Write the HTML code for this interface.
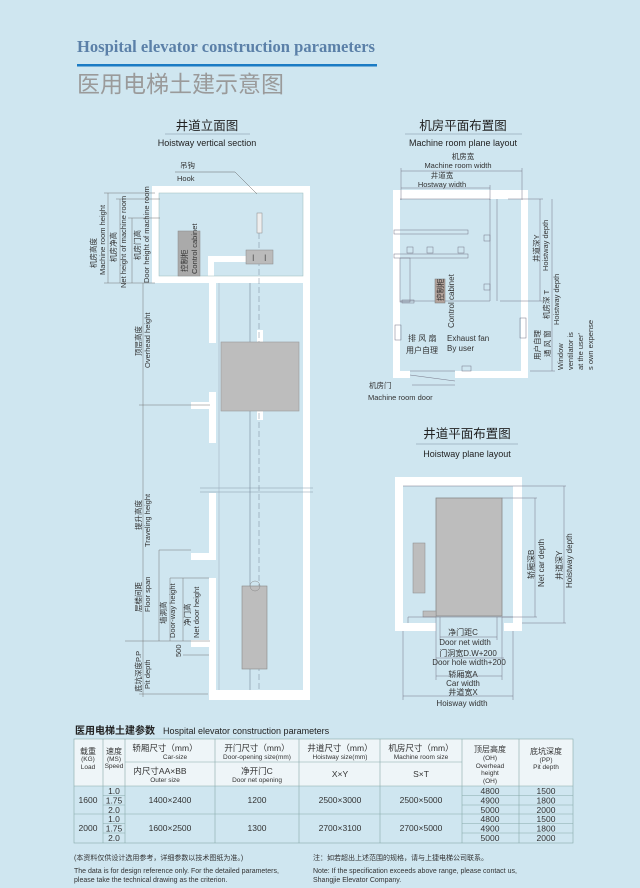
<!DOCTYPE html>
<html><head><meta charset="utf-8"><style>
html,body{margin:0;padding:0;background:#cfe6f0;}
svg{display:block}
text{font-family:"Liberation Sans","Noto Sans CJK SC",sans-serif;fill:#333}
</style></head><body>
<svg width="640" height="888" viewBox="0 0 640 888" xmlns="http://www.w3.org/2000/svg">
<rect width="640" height="888" fill="#cfe6f0"/>
<!-- Header -->
<text x="77" y="52" font-weight="bold" font-size="17" textLength="298" lengthAdjust="spacingAndGlyphs" style="fill:#5b80a8;font-family:'Liberation Serif',serif">Hospital elevator construction parameters</text>
<rect x="77" y="64" width="300" height="2.5" fill="#1b7bc4"/>
<text x="77" y="92" font-size="23" style="fill:#9a9a9a">医用电梯土建示意图</text>

<!-- Titles -->
<text x="207" y="130" font-size="12.5" text-anchor="middle" style="fill:#222">井道立面图</text>
<line x1="165" y1="134" x2="250" y2="134" stroke="#9ab" stroke-width="0.8"/>
<text x="207" y="146" font-size="9" text-anchor="middle" style="fill:#222">Hoistway vertical section</text>
<text x="463" y="130" font-size="12.5" text-anchor="middle" style="fill:#222">机房平面布置图</text>
<line x1="405" y1="134" x2="522" y2="134" stroke="#9ab" stroke-width="0.8"/>
<text x="463" y="146" font-size="9" text-anchor="middle" style="fill:#222">Machine room plane layout</text>
<text x="467" y="438" font-size="12.5" text-anchor="middle" style="fill:#222">井道平面布置图</text>
<line x1="416" y1="444" x2="518" y2="444" stroke="#9ab" stroke-width="0.8"/>
<text x="467" y="457" font-size="9" text-anchor="middle" style="fill:#222">Hoistway plane layout</text>

<!-- LEFT: vertical section -->
<g fill="#fff">
<rect x="152" y="186" width="158" height="7"/>
<rect x="152" y="186" width="7" height="97"/>
<rect x="303" y="186" width="7" height="514"/>
<rect x="152" y="276" width="158" height="7"/>
<rect x="209" y="283" width="7" height="60"/>
<rect x="209" y="392" width="7" height="10"/>
<rect x="191" y="402" width="25" height="7"/>
<rect x="209" y="409" width="7" height="34"/>
<rect x="209" y="493" width="7" height="60"/>
<rect x="191" y="553" width="25" height="7"/>
<rect x="209" y="578" width="7" height="62"/>
<rect x="191" y="640" width="25" height="7"/>
<rect x="209" y="647" width="7" height="53"/>
<rect x="209" y="690" width="101" height="10"/>
<rect x="208" y="256" width="40" height="6"/>
<rect x="208" y="256" width="6" height="20"/>
<rect x="257" y="330" width="6" height="90"/>
</g>
<rect x="159" y="193" width="144" height="83" fill="none" stroke="#9bb" stroke-width="0.5"/>
<line x1="200" y1="488" x2="313" y2="488" stroke="#89a" stroke-width="0.6"/>
<line x1="200" y1="492" x2="313" y2="492" stroke="#89a" stroke-width="0.6"/>
<line x1="250" y1="283" x2="250" y2="690" stroke="#789" stroke-width="0.6"/>
<line x1="259" y1="215" x2="259" y2="690" stroke="#789" stroke-width="0.5" stroke-dasharray="6,3"/>
<line x1="219" y1="283" x2="219" y2="690" stroke="#9ab" stroke-width="0.5"/>
<rect x="257" y="213" width="5" height="20" fill="#eee" stroke="#888" stroke-width="0.5"/>
<rect x="246" y="250" width="27" height="14" fill="#bbb" stroke="#888" stroke-width="0.5"/>
<text x="252" y="261" font-size="9" style="fill:#555">I</text><text x="264" y="261" font-size="9" style="fill:#555">I</text>
<rect x="178" y="231" width="22" height="45" fill="#aaa" stroke="#888" stroke-width="0.5"/>
<text transform="translate(187,272) rotate(-90)" font-size="7.5" style="fill:#333">控制柜</text>
<text transform="translate(197,274) rotate(-90)" font-size="7.5" style="fill:#333">Control cabinet</text>
<rect x="221" y="342" width="78" height="69" fill="#bdbdbd" stroke="#999" stroke-width="0.6"/>
<rect x="242" y="586" width="25" height="83" fill="#bdbdbd" stroke="#888" stroke-width="0.6"/>
<circle cx="255" cy="586" r="5" fill="none" stroke="#888" stroke-width="0.5"/>
<!-- hook -->
<text x="180" y="168" font-size="7.5">吊钩</text>
<text x="177" y="181" font-size="7.5">Hook</text>
<polyline points="175,172 235,172 257,194" fill="none" stroke="#666" stroke-width="0.5"/>
<!-- machine room dims -->
<g stroke="#777" stroke-width="0.5" fill="none">
<line x1="108" y1="193" x2="108" y2="283"/><line x1="104" y1="193" x2="155" y2="193"/><line x1="104" y1="283" x2="155" y2="283"/>
<line x1="120" y1="199" x2="120" y2="283"/><line x1="116" y1="199" x2="160" y2="199"/>
<line x1="132" y1="218" x2="132" y2="283"/><line x1="128" y1="218" x2="160" y2="218"/>
<line x1="143" y1="283" x2="143" y2="697"/>
<line x1="139" y1="405" x2="210" y2="405"/>
<line x1="125" y1="641" x2="210" y2="641"/>
<line x1="139" y1="694" x2="208" y2="694"/>
<line x1="159" y1="550" x2="191" y2="550"/><line x1="159" y1="550" x2="159" y2="641"/>
<line x1="170" y1="578" x2="209" y2="578"/><line x1="170" y1="578" x2="170" y2="641"/>
<line x1="183" y1="578" x2="183" y2="641"/>
<line x1="183" y1="655" x2="209" y2="655"/>
</g>
<text transform="translate(96,268) rotate(-90)" font-size="7.5">机房高度</text>
<text transform="translate(105,275) rotate(-90)" font-size="7.5">Machine room height</text>
<text transform="translate(116,262) rotate(-90)" font-size="7.5">机房净高</text>
<text transform="translate(126,288) rotate(-90)" font-size="7.5">Net height of machine room</text>
<text transform="translate(140,260) rotate(-90)" font-size="7.5">机房门高</text>
<text transform="translate(149,283) rotate(-90)" font-size="7.5">Door height of machine room</text>
<text transform="translate(141,356) rotate(-90)" font-size="7.5">顶层高度</text>
<text transform="translate(150,368) rotate(-90)" font-size="7.5">Overhead height</text>
<text transform="translate(141,530) rotate(-90)" font-size="7.5">提升高度</text>
<text transform="translate(150,547) rotate(-90)" font-size="7.5">Traveling height</text>
<text transform="translate(141,612) rotate(-90)" font-size="7.5">层楼间距</text>
<text transform="translate(150,612) rotate(-90)" font-size="7.5">Floor span</text>
<text transform="translate(166,624) rotate(-90)" font-size="7.5">墙洞高</text>
<text transform="translate(175,638) rotate(-90)" font-size="7.5">Door-way height</text>
<text transform="translate(190,626) rotate(-90)" font-size="7.5">净门高</text>
<text transform="translate(199,638) rotate(-90)" font-size="7.5">Net door height</text>
<text transform="translate(181,657) rotate(-90)" font-size="7.5">500</text>
<text transform="translate(141,692) rotate(-90)" font-size="7.5">底坑深度P.P</text>
<text transform="translate(150,689) rotate(-90)" font-size="7.5">Pit depth</text>

<!-- RIGHT TOP: machine room plan -->
<g fill="#fff">
<rect x="393" y="190" width="135" height="9"/>
<rect x="393" y="190" width="7" height="188"/>
<rect x="521" y="190" width="7" height="188"/>
<rect x="393" y="371" width="17" height="7"/>
<rect x="455" y="371" width="73" height="7"/>
</g>
<g stroke="#778" stroke-width="0.5" fill="none">
<rect x="394" y="230" width="74" height="4"/>
<rect x="394" y="254" width="74" height="4"/>
<rect x="400" y="258" width="10" height="44"/>
<rect x="402" y="300" width="12" height="3"/>
<line x1="400" y1="301" x2="490" y2="301"/>
<line x1="490" y1="199" x2="490" y2="301"/>
<line x1="497" y1="199" x2="497" y2="301"/>
<line x1="400" y1="199" x2="490" y2="199"/>
<rect x="407" y="247" width="6" height="6"/><rect x="427" y="247" width="6" height="6"/><rect x="458" y="247" width="6" height="6"/>
<rect x="484" y="235" width="6" height="6"/><rect x="484" y="284" width="6" height="6"/>
<rect x="395" y="325" width="6" height="15"/>
<rect x="520" y="318" width="6" height="20"/>
<rect x="462" y="366" width="9" height="5"/>
<line x1="410" y1="375" x2="455" y2="381"/><line x1="410" y1="371" x2="455" y2="371"/>
<line x1="412" y1="385" x2="455" y2="385"/>
<line x1="401" y1="171" x2="522" y2="171"/><line x1="401" y1="168" x2="401" y2="200"/><line x1="522" y1="168" x2="522" y2="200"/>
<line x1="401" y1="188" x2="490" y2="188"/><line x1="490" y1="185" x2="490" y2="200"/>
<line x1="540" y1="199" x2="540" y2="301"/><line x1="508" y1="199" x2="543" y2="199"/><line x1="500" y1="301" x2="543" y2="301"/>
<line x1="552" y1="199" x2="552" y2="371"/><line x1="530" y1="371" x2="555" y2="371"/>
</g>
<rect x="435" y="279" width="10" height="24" fill="#b3a39c" stroke="#777" stroke-width="0.5"/>
<text transform="translate(443,301) rotate(-90)" font-size="7.5">控制柜</text>
<text transform="translate(454,328) rotate(-90)" font-size="8">Control cabinet</text>
<text x="463" y="159" font-size="7.5" text-anchor="middle">机房宽</text>
<text x="458" y="168" font-size="7.5" text-anchor="middle">Machine room width</text>
<text x="442" y="178" font-size="7.5" text-anchor="middle">井道宽</text>
<text x="442" y="187" font-size="7.5" text-anchor="middle">Hostway width</text>
<text x="408" y="341" font-size="8">排 风 扇</text>
<text x="406" y="353" font-size="8">用户自理</text>
<text x="447" y="341" font-size="8">Exhaust fan</text>
<text x="447" y="351" font-size="8">By user</text>
<text x="369" y="388" font-size="7.5">机房门</text>
<text x="368" y="400" font-size="7.5">Machine room door</text>
<text transform="translate(539,262) rotate(-90)" font-size="7.5">井道深Y</text>
<text transform="translate(548,271) rotate(-90)" font-size="7.5">Hoistway depth</text>
<text transform="translate(549,319) rotate(-90)" font-size="7.5">机房深 T</text>
<text transform="translate(559,325) rotate(-90)" font-size="7.5">Hoistway depth</text>
<text transform="translate(540,360) rotate(-90)" font-size="7.5">用户自理</text>
<text transform="translate(550,357) rotate(-90)" font-size="7.5">通 风 窗</text>
<text transform="translate(563,370) rotate(-90)" font-size="7.5">Window</text>
<text transform="translate(573,370) rotate(-90)" font-size="7.5">ventilator is</text>
<text transform="translate(583,370) rotate(-90)" font-size="7.5">at the user'</text>
<text transform="translate(593,370) rotate(-90)" font-size="7.5">s own expense</text>

<!-- RIGHT BOTTOM: hoistway plan -->
<g fill="#fff">
<rect x="395" y="477" width="127" height="9"/>
<rect x="395" y="477" width="8" height="154"/>
<rect x="513" y="477" width="9" height="154"/>
<rect x="395" y="623" width="41" height="8"/>
<rect x="504" y="623" width="18" height="8"/>
</g>
<rect x="436" y="498" width="66" height="118" fill="#bdbdbd" stroke="#888" stroke-width="0.8"/>
<rect x="413" y="543" width="12" height="50" fill="#bdbdbd" stroke="#888" stroke-width="0.5"/>
<rect x="423" y="611" width="13" height="6" fill="#bdbdbd" stroke="#888" stroke-width="0.5"/>
<g stroke="#778" stroke-width="0.5" fill="none">
<line x1="403" y1="486" x2="513" y2="486"/>
<line x1="408" y1="617" x2="513" y2="617"/>
<line x1="408" y1="617" x2="408" y2="623"/>
<line x1="502" y1="498" x2="537" y2="498"/><line x1="535" y1="498" x2="535" y2="617"/><line x1="502" y1="617" x2="537" y2="617"/>
<line x1="513" y1="486" x2="566" y2="486"/><line x1="564" y1="486" x2="564" y2="623"/><line x1="522" y1="623" x2="566" y2="623"/>
<line x1="440" y1="637" x2="497" y2="637"/>
<line x1="440" y1="617" x2="440" y2="640"/><line x1="497" y1="617" x2="497" y2="640"/>
<line x1="436" y1="658" x2="504" y2="658"/>
<line x1="436" y1="676" x2="502" y2="676"/>
<line x1="436" y1="617" x2="436" y2="680"/><line x1="502" y1="617" x2="502" y2="680"/>
<line x1="403" y1="696" x2="513" y2="696"/>
<line x1="403" y1="631" x2="403" y2="700"/><line x1="513" y1="631" x2="513" y2="700"/>
</g>
<text x="463" y="635" font-size="8" text-anchor="middle">净门距C</text>
<text x="465" y="645" font-size="8" text-anchor="middle">Door net width</text>
<text x="468" y="656" font-size="8" text-anchor="middle">门洞宽D.W+200</text>
<text x="469" y="665" font-size="8" text-anchor="middle">Door hole width+200</text>
<text x="463" y="677" font-size="8" text-anchor="middle">轿厢宽A</text>
<text x="463" y="686" font-size="8" text-anchor="middle">Car width</text>
<text x="463" y="695" font-size="8" text-anchor="middle">井道宽X</text>
<text x="462" y="706" font-size="8" text-anchor="middle">Hoisway width</text>
<text transform="translate(534,579) rotate(-90)" font-size="8">轿厢深B</text>
<text transform="translate(544,587) rotate(-90)" font-size="8">Net car depth</text>
<text transform="translate(562,580) rotate(-90)" font-size="8">井道深Y</text>
<text transform="translate(572,588) rotate(-90)" font-size="8">Hoistway depth</text>

<!-- TABLE -->
<text x="75" y="734" font-size="10" font-weight="bold" style="fill:#222">医用电梯土建参数</text>
<text x="163" y="734" font-size="9" style="fill:#222">Hospital elevator construction parameters</text>
<rect x="74" y="739" width="499" height="47" fill="#eef5f8"/>
<rect x="74" y="786" width="499" height="57" fill="#cfe6f0"/>
<g stroke="#8aa" stroke-width="0.6" fill="none">
<rect x="74" y="739" width="499" height="104"/>
<line x1="103" y1="739" x2="103" y2="843"/>
<line x1="125" y1="739" x2="125" y2="843"/>
<line x1="215" y1="739" x2="215" y2="843"/>
<line x1="299" y1="739" x2="299" y2="843"/>
<line x1="380" y1="739" x2="380" y2="843"/>
<line x1="462" y1="739" x2="462" y2="843"/>
<line x1="519" y1="739" x2="519" y2="843"/>
<line x1="125" y1="762" x2="462" y2="762"/>
<line x1="74" y1="786" x2="573" y2="786"/>
<line x1="74" y1="814" x2="573" y2="814"/>
<line x1="103" y1="795.5" x2="125" y2="795.5"/><line x1="103" y1="805" x2="125" y2="805"/>
<line x1="103" y1="823.5" x2="125" y2="823.5"/><line x1="103" y1="833" x2="125" y2="833"/>
<line x1="462" y1="795.5" x2="573" y2="795.5"/><line x1="462" y1="805" x2="573" y2="805"/>
<line x1="462" y1="823.5" x2="573" y2="823.5"/><line x1="462" y1="833" x2="573" y2="833"/>
</g>
<g font-size="6.5" text-anchor="middle">
<text x="88" y="754" font-size="8">载重</text><text x="88" y="761">(KG)</text><text x="88" y="769">Load</text>
<text x="114" y="754" font-size="8">速度</text><text x="114" y="761">(MS)</text><text x="114" y="768">Speed</text>
<text x="165" y="751" font-size="8.5">轿厢尺寸（mm）</text><text x="175" y="759">Car-size</text>
<text x="160" y="774" font-size="8.5">内尺寸AA×BB</text><text x="165" y="782">Outer size</text>
<text x="257" y="751" font-size="8.5">开门尺寸（mm）</text><text x="257" y="759">Door-opening size(mm)</text>
<text x="257" y="774" font-size="8.5">净开门C</text><text x="257" y="782">Door net opening</text>
<text x="340" y="751" font-size="8.5">井道尺寸（mm）</text><text x="340" y="759">Hoistway size(mm)</text>
<text x="340" y="777" font-size="8.5">X×Y</text>
<text x="421" y="751" font-size="8.5">机房尺寸（mm）</text><text x="421" y="759">Machine room size</text>
<text x="421" y="777" font-size="8.5">S×T</text>
<text x="490" y="752" font-size="8">顶层高度</text><text x="490" y="760">(OH)</text><text x="490" y="768">Overhead</text><text x="490" y="775">height</text><text x="490" y="783">(OH)</text>
<text x="546" y="754" font-size="8">底坑深度</text><text x="546" y="762">(PP)</text><text x="546" y="769">Pit depth</text>
</g>
<g font-size="8.5" text-anchor="middle" style="fill:#222">
<text x="88" y="803">1600</text><text x="88" y="831">2000</text>
<text x="114" y="794">1.0</text><text x="114" y="803.5">1.75</text><text x="114" y="813">2.0</text>
<text x="114" y="822">1.0</text><text x="114" y="831.5">1.75</text><text x="114" y="841">2.0</text>
<text x="170" y="803">1400×2400</text><text x="170" y="831">1600×2500</text>
<text x="257" y="803">1200</text><text x="257" y="831">1300</text>
<text x="340" y="803">2500×3000</text><text x="340" y="831">2700×3100</text>
<text x="421" y="803">2500×5000</text><text x="421" y="831">2700×5000</text>
<text x="490" y="794">4800</text><text x="490" y="803.5">4900</text><text x="490" y="813">5000</text>
<text x="490" y="822">4800</text><text x="490" y="831.5">4900</text><text x="490" y="841">5000</text>
<text x="546" y="794">1500</text><text x="546" y="803.5">1800</text><text x="546" y="813">2000</text>
<text x="546" y="822">1500</text><text x="546" y="831.5">1800</text><text x="546" y="841">2000</text>
</g>
<g font-size="7" style="fill:#222">
<text x="74" y="860">(本资料仅供设计选用参考，详细参数以技术图纸为准。)</text>
<text x="74" y="873">The data is for design reference only. For the detailed parameters,</text>
<text x="74" y="882">please take the technical drawing as the criterion.</text>
<text x="313" y="860">注：如若超出上述范围的规格，请与上捷电梯公司联系。</text>
<text x="313" y="873">Note: If the specification exceeds above range, please contact us,</text>
<text x="313" y="882">Shangjie Elevator Company.</text>
</g>
</svg>
</body></html>
